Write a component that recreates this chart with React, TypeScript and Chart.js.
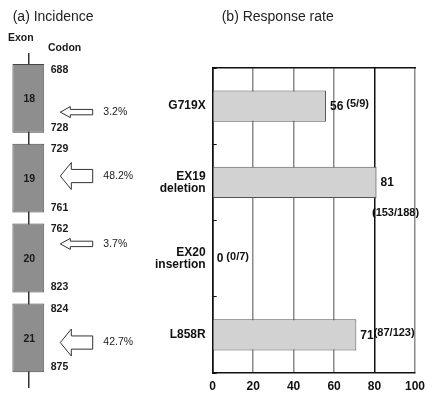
import React, { useEffect, useRef } from 'react';
import { Chart, registerables } from 'chart.js';

Chart.register(...registerables);

const FONT = '"Liberation Sans", Arial, sans-serif';

// ---- (a) Incidence ----
const exonNumbers = ['18', '19', '20', '21'];
const codonStart = [688, 729, 762, 824];
const codonEnd = [728, 761, 823, 875];
const incidencePct = [3.2, 48.2, 3.7, 42.7];
const arrowCodon = [716, 744, 780, 853];

// ---- (b) Response rate ----
const mutationLabels = [['G719X'], ['EX19', 'deletion'], ['EX20', 'insertion'], ['L858R']];
const responseRate = [56, 81, 0, 71];
const responseCounts = ['5/9', '153/188', '0/7', '87/123'];
const xMin = 0;
const xMax = 100;
const xStep = 20;

// note placement (style, not data)
const NOTE_LAYOUT = [
  { below: false, gap: 3 },
  { below: true, gap: 0 },
  { below: false, gap: 3 },
  { below: false, gap: 0 },
];

const exonPlugin = {
  id: 'exonDecor',
  afterDatasetsDraw(chart: any) {
    const ctx = chart.ctx;
    const area = chart.chartArea;
    const meta = chart.getDatasetMeta(0);
    ctx.save();
    meta.data.forEach((el: any, i: number) => {
      const { x, y, base, height } = el.getProps(['x', 'y', 'base', 'height'], true);
      const top = y - height / 2;
      const bottom = y + height / 2;
      ctx.fillStyle = '#1a1a1a';
      ctx.font = `bold 10.5px ${FONT}`;
      ctx.textAlign = 'center';
      ctx.textBaseline = 'middle';
      ctx.fillText(exonNumbers[i], (x + base) / 2 + 1, y + 1);
      ctx.textAlign = 'left';
      ctx.textBaseline = 'top';
      ctx.fillText(String(codonStart[i]), area.right + 6.4, top + 0.5);
      ctx.textBaseline = 'alphabetic';
      ctx.fillText(String(codonEnd[i]), area.right + 6.4, bottom - 2);

      const ay = top + ((arrowCodon[i] - codonStart[i]) / (codonEnd[i] - codonStart[i])) * height;
      const major = incidencePct[i] >= 10;
      const headH = major ? 13.5 : 5.5;
      const shaftH = major ? 6.6 : 2.7;
      const headL = major ? 11 : 10;
      const tip = area.right + 16;
      const tail = area.right + 48.4;
      ctx.beginPath();
      ctx.moveTo(tip, ay);
      ctx.lineTo(tip + headL, ay - headH);
      ctx.lineTo(tip + headL, ay - shaftH);
      ctx.lineTo(tail, ay - shaftH);
      ctx.lineTo(tail, ay + shaftH);
      ctx.lineTo(tip + headL, ay + shaftH);
      ctx.lineTo(tip + headL, ay + headH);
      ctx.closePath();
      ctx.fillStyle = '#fff';
      ctx.fill();
      ctx.strokeStyle = '#333';
      ctx.lineWidth = 1;
      ctx.stroke();

      ctx.fillStyle = '#1a1a1a';
      ctx.font = `10.5px ${FONT}`;
      ctx.textBaseline = 'middle';
      ctx.fillText(`${incidencePct[i]}%`, area.right + 59, ay);
    });
    ctx.restore();
  },
};

const valuePlugin = {
  id: 'valueLabels',
  afterDatasetsDraw(chart: any) {
    const ctx = chart.ctx;
    const meta = chart.getDatasetMeta(0);
    ctx.save();
    ctx.fillStyle = '#111';
    ctx.textBaseline = 'middle';
    ctx.textAlign = 'left';
    meta.data.forEach((el: any, i: number) => {
      const { x, y, height } = el.getProps(['x', 'y', 'height'], true);
      const v = String(responseRate[i]);
      const note = `(${responseCounts[i]})`;
      ctx.font = `bold 12px ${FONT}`;
      const vx = x + 4;
      ctx.fillText(v, vx, y + 0.5);
      const vw = ctx.measureText(v).width;
      ctx.font = `bold 11px ${FONT}`;
      const place = NOTE_LAYOUT[i];
      if (place.below) {
        ctx.fillText(note, x - 4.6, y + height / 2 + 15);
      } else {
        ctx.fillText(note, vx + vw + place.gap, y - 2);
      }
    });
    ctx.restore();
  },
};

export default function App() {
  const leftRef = useRef<HTMLCanvasElement>(null);
  const rightRef = useRef<HTMLCanvasElement>(null);

  useEffect(() => {
    const right = new Chart(rightRef.current as HTMLCanvasElement, {
      type: 'bar',
      data: {
        labels: mutationLabels as any,
        datasets: [
          {
            data: responseRate,
            backgroundColor: '#d2d2d2',
            borderColor: '#555',
            borderWidth: 1,
            barPercentage: 0.41,
            categoryPercentage: 1,
          },
        ],
      },
      options: {
        indexAxis: 'y',
        responsive: false,
        animation: false,
        layout: { padding: { left: 0, right: 19, top: 68, bottom: 0 } },
        plugins: { legend: { display: false }, tooltip: { enabled: false } },
        scales: {
          x: {
            type: 'linear',
            position: 'bottom',
            min: xMin,
            max: xMax,
            ticks: {
              stepSize: xStep,
              color: '#111',
              font: { family: FONT, size: 12, weight: 'bold' },
              padding: 6,
            },
            grid: {
              color: (c: any) =>
                c.tick && (c.tick.value === 80 || c.tick.value === 0) ? '#111' : '#8a8a8a',
              lineWidth: 1.5,
              drawTicks: false,
            },
            border: { color: '#111', width: 1.5 },
            afterFit: (s: any) => {
              s.height = 22;
            },
          },
          xTop: {
            type: 'linear',
            axis: 'x',
            position: 'top',
            min: xMin,
            max: xMax,
            ticks: { display: false },
            grid: { display: false, drawTicks: false },
            border: { color: '#111', width: 1.5 },
            afterFit: (s: any) => {
              s.height = 0;
            },
          },
          y: {
            type: 'category',
            offset: true,
            ticks: {
              color: '#111',
              font: { family: FONT, size: 12, weight: 'bold', lineHeight: 1.03 },
              padding: 11,
            },
            grid: {
              offset: true,
              drawOnChartArea: false,
              drawTicks: true,
              tickLength: -4,
              color: '#111',
              lineWidth: 1,
            },
            border: { color: '#111', width: 1.5 },
            afterFit: (s: any) => {
              s.width = 212.7;
            },
          },
        } as any,
      },
      plugins: [valuePlugin],
    });

    const left = new Chart(leftRef.current as HTMLCanvasElement, {
      type: 'bar',
      data: {
        datasets: [
          {
            data: exonNumbers.map((_, i) => ({ y: i, x: [0, 1] })) as any,
            backgroundColor: '#8e8e8e',
            borderColor: '#444',
            borderWidth: 1,
            borderSkipped: false,
            barPercentage: 0.862,
            categoryPercentage: 1,
          },
        ],
      },
      options: {
        indexAxis: 'y',
        responsive: false,
        animation: false,
        layout: { padding: { left: 12.3, right: 155.7, top: 54, bottom: 8 } },
        plugins: { legend: { display: false }, tooltip: { enabled: false } },
        scales: {
          x: { type: 'linear', min: 0, max: 1, display: false },
          y: {
            type: 'linear',
            min: -0.5556,
            max: 3.616,
            reverse: true,
            offset: false,
            position: { x: 0.5 },
            ticks: { display: false, stepSize: 1, includeBounds: false },
            grid: { display: false, drawTicks: false },
            border: { display: true, color: '#333', width: 1.5 },
          },
        } as any,
      },
      plugins: [exonPlugin],
    });

    return () => {
      right.destroy();
      left.destroy();
    };
  }, []);

  const titleStyle: React.CSSProperties = {
    position: 'absolute',
    fontFamily: FONT,
    fontSize: 14,
    lineHeight: '16px',
    color: '#222',
    whiteSpace: 'nowrap',
  };
  const headStyle: React.CSSProperties = {
    position: 'absolute',
    fontFamily: FONT,
    fontSize: 10.5,
    fontWeight: 'bold',
    lineHeight: '12px',
    color: '#1a1a1a',
    whiteSpace: 'nowrap',
  };

  return (
    <div
      style={{
        position: 'fixed',
        left: 0,
        top: 0,
        width: 434,
        height: 395,
        background: '#fff',
        overflow: 'hidden',
      }}
    >
      <canvas
        ref={rightRef}
        width={434}
        height={395}
        style={{ position: 'absolute', left: 0, top: 0, display: 'block' }}
      />
      <canvas
        ref={leftRef}
        width={200}
        height={395}
        style={{ position: 'absolute', left: 0, top: 0, display: 'block' }}
      />
      <div style={{ ...titleStyle, left: 12.7, top: 8 }}>(a) Incidence</div>
      <div style={{ ...titleStyle, left: 221.7, top: 8 }}>(b) Response rate</div>
      <div style={{ ...headStyle, left: 8, top: 31.3 }}>Exon</div>
      <div style={{ ...headStyle, left: 48, top: 41.4 }}>Codon</div>
    </div>
  );
}
